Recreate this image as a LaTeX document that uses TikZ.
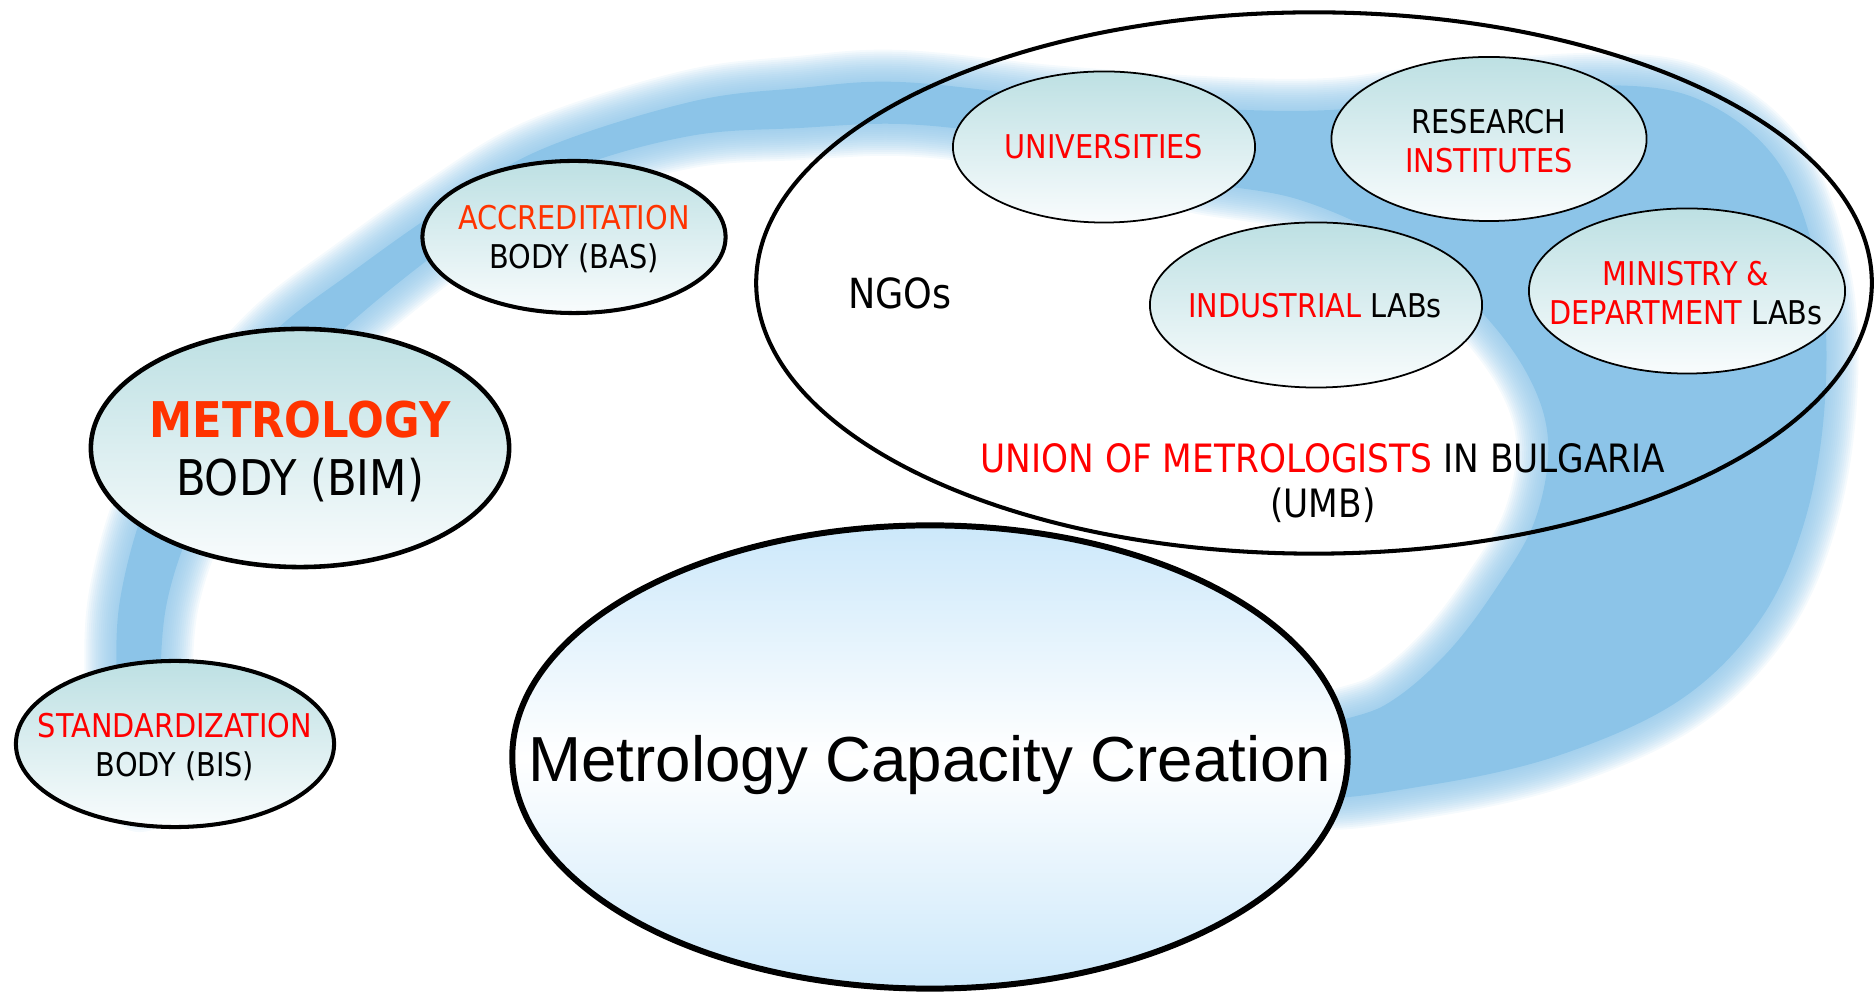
\documentclass[tikz,border=0pt]{standalone}
\usepackage{fontspec}
\setmainfont{DejaVu Sans}[FakeStretch=0.88]
\newfontfamily\arialfont{Liberation Sans}
\usetikzlibrary{shapes.geometric}

\begin{document}
\begin{tikzpicture}[x=0.01cm,y=-0.01cm,
  oval/.style={ellipse,draw,line width=1.15pt,inner sep=0,top color=tealtop,bottom color=tealbot},
  lab/.style={oval,line width=0.5pt},
  txt/.style={align=center,inner sep=0,font=\fontsize{9.3}{10.9}\selectfont}]
\definecolor{tealtop}{HTML}{BDE0E3}
\definecolor{tealbot}{HTML}{F9FCFD}
\definecolor{captop}{HTML}{CCE8FA}
\definecolor{bandblue}{HTML}{8CC4E8}
\definecolor{hot}{HTML}{FF3300}
\useasboundingbox (0,0) rectangle (1876,995);
% blurred ring behind everything
\def\band{plot[smooth cycle,tension=0.6] coordinates {
  (140,800) (120,750) (117,700) (120,600) (152,490) (210,405) (276,330) (352,272)
  (440,210) (540,150) (690,102) (800,88) (900,82) (1050,97) (1200,108) (1330,110)
  (1450,95) (1600,85) (1700,100) (1780,165) (1820,280) (1825,400) (1805,520)
  (1760,620) (1680,700) (1560,755) (1430,785) (1310,795)
  (1310,735) (1385,705) (1445,655) (1495,590) (1535,520) (1548,440) (1525,370)
  (1470,300) (1400,245) (1300,200) (1200,182) (1100,160) (1000,135) (900,124)
  (800,128) (690,136) (570,170) (478,224) (392,288) (316,355) (252,426)
  (200,508) (167,602) (160,700) (162,760)}}
\foreach \w in {64,60,...,4}
  \draw[bandblue,line width=\w*0.2845pt,draw opacity=0.09,line join=round] \band;
\fill[bandblue] \band;

% bodies
\node[oval,line width=1.3pt,minimum width=4.18cm,minimum height=2.38cm] (bim) at (300,448) {};
\node[oval,minimum width=3.18cm,minimum height=1.66cm] (bis) at (175,744) {};
\node[oval,minimum width=3.03cm,minimum height=1.52cm] (bas) at (574,237) {};
\node[ellipse,draw,line width=1.15pt,minimum width=11.15cm,minimum height=5.41cm] (umb) at (1314,283) {};
\node[lab,minimum width=3.02cm,minimum height=1.51cm] (uni) at (1104,147) {};
\node[lab,minimum width=3.15cm,minimum height=1.64cm] (res) at (1489,139) {};
\node[lab,minimum width=3.32cm,minimum height=1.65cm] (ind) at (1316,305) {};
\node[lab,minimum width=3.16cm,minimum height=1.65cm] (min) at (1687,291) {};
\node[ellipse,draw,line width=1.7pt,inner sep=0,top color=captop,bottom color=captop,middle color=white,
  minimum width=8.35cm,minimum height=4.63cm] (cap) at (930,757) {};

% texts
\node[txt,font=\fontsize{14}{16.5}\selectfont] (bimtxt) at (300,451) {\textcolor{hot}{\bfseries METROLOGY}\\BODY (BIM)};
\node[txt] (bistxt) at (175,747) {\textcolor{red}{STANDARDIZATION}\\BODY (BIS)};
\node[txt] (bastxt) at (574,239) {\textcolor{hot}{ACCREDITATION}\\BODY (BAS)};
\node[txt,anchor=base] (unitxt) at (1104,159) {\textcolor{red}{UNIVERSITIES}};
\node[txt] (restxt) at (1489,141) {RESEARCH\\\textcolor{red}{INSTITUTES}};
\node[txt,anchor=base] (indtxt) at (1315,318) {\textcolor{red}{INDUSTRIAL} LABs};
\node[txt] (mintxt) at (1686,293) {\textcolor{red}{MINISTRY \&}\\\textcolor{red}{DEPARTMENT} LABs};
\node[txt,anchor=base,font=\fontsize{11.8}{14}\selectfont] (ngotxt) at (900,309) {NGOs};
\node[txt,font=\fontsize{11.1}{12.8}\selectfont] (umbtxt) at (1323,483) {\textcolor{red}{UNION OF METROLOGISTS} IN BULGARIA\\(UMB)};
\node[txt,anchor=base,font=\arialfont\fontsize{18.1}{21}\selectfont] (captxt) at (930,782) {Metrology Capacity Creation};
\end{tikzpicture}
\end{document}
